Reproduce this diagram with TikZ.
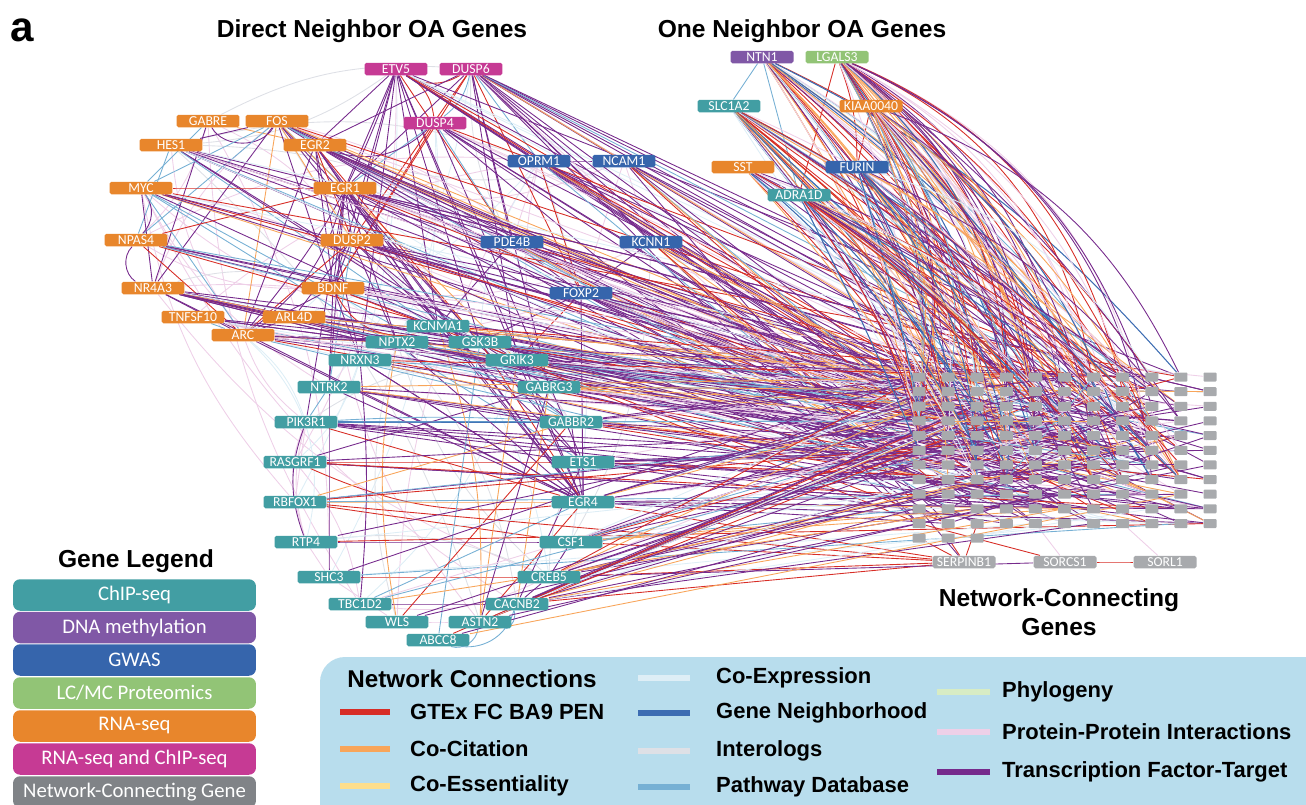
\documentclass[tikz,border=0pt]{standalone}
\usepackage{fontspec}
\setmainfont{Liberation Sans}
\newfontfamily\genefont{Carlito}
\pgfdeclarelayer{bg}
\pgfsetlayers{bg,main}

\definecolor{chipcol}{RGB}{66,158,163}
\definecolor{rnacol}{RGB}{232,134,44}
\definecolor{rnachipcol}{RGB}{198,58,148}
\definecolor{gwascol}{RGB}{54,101,172}
\definecolor{methcol}{RGB}{128,88,166}
\definecolor{protcol}{RGB}{146,196,118}
\definecolor{gridcol}{RGB}{168,170,173}
\definecolor{conncol}{RGB}{128,131,135}
\definecolor{tfcol}{RGB}{118,42,140}
\definecolor{gtexcol}{RGB}{215,45,38}
\definecolor{cocitcol}{RGB}{248,165,90}
\definecolor{coesscol}{RGB}{253,222,140}
\definecolor{coexpcol}{RGB}{222,238,246}
\definecolor{neighcol}{RGB}{60,108,178}
\definecolor{intercol}{RGB}{222,224,230}
\definecolor{pathcol}{RGB}{118,176,212}
\definecolor{phylocol}{RGB}{215,236,196}
\definecolor{ppicol}{RGB}{238,208,232}
\definecolor{panelcol}{RGB}{184,221,237}

\tikzset{
  gene/.style={rectangle, rounded corners=1pt, minimum width=1.26cm, minimum height=0.25cm,
    inner sep=0pt, text=white, font=\genefont\fontsize{7.8}{8}\selectfont},
  chip/.style={gene, fill=chipcol},
  rnaseq/.style={gene, fill=rnacol},
  rnachip/.style={gene, fill=rnachipcol},
  gwas/.style={gene, fill=gwascol},
  meth/.style={gene, fill=methcol},
  prot/.style={gene, fill=protcol},
  conn/.style={gene, fill=gridcol},
  gridbox/.style={rectangle, rounded corners=0.5pt, fill=gridcol, minimum width=0.26cm,
    minimum height=0.18cm, inner sep=0pt},
  tf/.style={draw=tfcol, line width=0.5pt},
  gtex/.style={draw=gtexcol, line width=0.5pt},
  cocit/.style={draw=cocitcol, line width=0.5pt},
  coess/.style={draw=coesscol, line width=0.5pt},
  coexp/.style={draw=coexpcol, line width=0.5pt},
  neigh/.style={draw=neighcol, line width=0.6pt},
  interolog/.style={draw=intercol, line width=0.5pt},
  pathdb/.style={draw=pathcol, line width=0.5pt},
  phylo/.style={draw=phylocol, line width=0.5pt},
  ppi/.style={draw=ppicol, line width=0.5pt},
  w1/.style={tf}, w2/.style={tf}, w3/.style={tf}, w4/.style={tf}, w5/.style={tf},
  w6/.style={gtex}, w7/.style={cocit}, w8/.style={pathdb}, w9/.style={ppi}, w10/.style={coexp},
  w11/.style={interolog}, w12/.style={ppi},
  v1/.style={tf}, v2/.style={tf}, v3/.style={tf}, v4/.style={gtex}, v5/.style={gtex},
  v6/.style={cocit}, v7/.style={cocit}, v8/.style={pathdb}, v9/.style={neigh}, v10/.style={ppi},
  v11/.style={coexp}, v12/.style={ppi},
  heading/.style={font=\bfseries\fontsize{14}{16.5}\selectfont},
  legbox/.style={rectangle, rounded corners=4pt, minimum width=4.86cm, minimum height=0.63cm,
    inner sep=0pt, text=white, font=\genefont\fontsize{11.8}{13}\selectfont},
  legline/.style={line width=3pt},
  legtext/.style={anchor=west, font=\bfseries\fontsize{12.5}{14}\selectfont},
}

\begin{document}
\begin{tikzpicture}
  [x=0.02cm, y=-0.02cm]
  \useasboundingbox (0,0) rectangle (1306,805);
  \pgfmathsetseed{42}

  % headings
  \node[font=\bfseries\fontsize{24}{26}\selectfont] (tag) at (22,30) {a};
  \node[heading] (direct) at (372,31) {Direct Neighbor OA Genes};
  \node[heading] (oneneigh) at (802,31) {One Neighbor OA Genes};
  \node[heading, align=center] (connecting) at (1059,612) {Network-Connecting\\Genes};

  % direct neighbor genes
  \node[rnachip] (etv5) at (396,69) {ETV5};
  \node[rnachip] (dusp6) at (471,69) {DUSP6};
  \node[rnachip] (dusp4) at (435,123) {DUSP4};
  \node[rnaseq] (gabre) at (208,121) {GABRE};
  \node[rnaseq] (fos) at (277,121) {FOS};
  \node[rnaseq] (hes1) at (171,145) {HES1};
  \node[rnaseq] (egr2) at (315,145) {EGR2};
  \node[rnaseq] (myc) at (141,188) {MYC};
  \node[rnaseq] (egr1) at (345,188) {EGR1};
  \node[rnaseq] (npas4) at (136,240) {NPAS4};
  \node[rnaseq] (dusp2) at (352,240) {DUSP2};
  \node[rnaseq] (nr4a3) at (153,288) {NR4A3};
  \node[rnaseq] (bdnf) at (333,288) {BDNF};
  \node[rnaseq] (tnfsf10) at (193,317) {TNFSF10};
  \node[rnaseq] (arl4d) at (294,317) {ARL4D};
  \node[rnaseq] (arc) at (243,335) {ARC};
  \node[gwas] (oprm1) at (539,161) {OPRM1};
  \node[gwas] (ncam1) at (624,161) {NCAM1};
  \node[gwas] (pde4b) at (512,242) {PDE4B};
  \node[gwas] (kcnn1) at (651,242) {KCNN1};
  \node[gwas] (foxp2) at (581,293) {FOXP2};
  \node[chip] (kcnma1) at (438,326) {KCNMA1};
  \node[chip] (nptx2) at (397,342) {NPTX2};
  \node[chip] (gsk3b) at (480,342) {GSK3B};
  \node[chip] (nrxn3) at (360,360) {NRXN3};
  \node[chip] (grik3) at (517,360) {GRIK3};
  \node[chip] (ntrk2) at (329,387) {NTRK2};
  \node[chip] (gabrg3) at (549,387) {GABRG3};
  \node[chip] (pik3r1) at (306,422) {PIK3R1};
  \node[chip] (gabbr2) at (571,422) {GABBR2};
  \node[chip] (rasgrf1) at (295,462) {RASGRF1};
  \node[chip] (ets1) at (583,462) {ETS1};
  \node[chip] (rbfox1) at (295,502) {RBFOX1};
  \node[chip] (egr4) at (583,502) {EGR4};
  \node[chip] (rtp4) at (306,542) {RTP4};
  \node[chip] (csf1) at (571,542) {CSF1};
  \node[chip] (shc3) at (329,577) {SHC3};
  \node[chip] (creb5) at (549,577) {CREB5};
  \node[chip] (tbc1d2) at (360,604) {TBC1D2};
  \node[chip] (cacnb2) at (517,604) {CACNB2};
  \node[chip] (wls) at (397,622) {WLS};
  \node[chip] (astn2) at (480,622) {ASTN2};
  \node[chip] (abcc8) at (438,640) {ABCC8};

  % one neighbor genes
  \node[meth] (ntn1) at (762,57) {NTN1};
  \node[prot] (lgals3) at (837,57) {LGALS3};
  \node[chip] (slc1a2) at (729,106) {SLC1A2};
  \node[rnaseq] (kiaa0040) at (871,106) {KIAA0040};
  \node[rnaseq] (sst) at (743,167) {SST};
  \node[gwas] (furin) at (857,167) {FURIN};
  \node[chip] (adra1d) at (799,195) {ADRA1D};

  % network-connecting genes
  \foreach \col in {1,...,11}{
    \pgfmathtruncatemacro\nrow{\col<4 ? 12 : 11}
    \foreach \rw in {1,...,\nrow}
      \node[gridbox] (n-\col-\rw) at ({919+29.1*(\col-1)},{377+14.65*(\rw-1)}) {};
  }
  \node[conn] (serpinb1) at (964,562) {SERPINB1};
  \node[conn] (sorcs1) at (1065,562) {SORCS1};
  \node[conn] (sorl1) at (1165,562) {SORL1};

  \begin{pgfonlayer}{bg}
    % faint links first
    \foreach \k in {1,...,70}{
      \pgfmathrandominteger{\ga}{1}{42}
      \pgfmathrandominteger{\gb}{1}{42}
      \pgfmathrandominteger{\gk}{9}{12}
      \pgfmathparse{{"etv5","dusp6","dusp4","gabre","fos","hes1","egr2","myc","egr1","npas4",
        "dusp2","nr4a3","bdnf","tnfsf10","arl4d","arc","oprm1","ncam1","pde4b","kcnn1","foxp2",
        "kcnma1","nptx2","gsk3b","nrxn3","grik3","ntrk2","gabrg3","pik3r1","gabbr2","rasgrf1",
        "ets1","rbfox1","egr4","rtp4","csf1","shc3","creb5","tbc1d2","cacnb2","wls","astn2"}[\ga-1]}
      \let\na\pgfmathresult
      \pgfmathparse{{"etv5","dusp6","dusp4","gabre","fos","hes1","egr2","myc","egr1","npas4",
        "dusp2","nr4a3","bdnf","tnfsf10","arl4d","arc","oprm1","ncam1","pde4b","kcnn1","foxp2",
        "kcnma1","nptx2","gsk3b","nrxn3","grik3","ntrk2","gabrg3","pik3r1","gabbr2","rasgrf1",
        "ets1","rbfox1","egr4","rtp4","csf1","shc3","creb5","tbc1d2","cacnb2","wls","astn2"}[\gb-1]}
      \let\nb\pgfmathresult
      \ifnum\ga=\gb\else\draw[w\gk] (\na) to[bend left=15] (\nb);\fi
    }

    % links inside the clusters
    \foreach \a/\b/\s/\bnd in {
      etv5/dusp6/gtex/-30, etv5/dusp4/gtex/25, etv5/egr1/tf/0, etv5/egr2/tf/0, etv5/dusp2/tf/0,
      etv5/bdnf/tf/0, etv5/arc/tf/10, etv5/nrxn3/tf/0, etv5/kcnma1/tf/0, etv5/oprm1/tf/0,
      etv5/gsk3b/tf/0, etv5/grik3/tf/0, etv5/pde4b/gtex/0, etv5/egr4/tf/0,
      dusp6/dusp4/pathdb/20, dusp6/egr1/tf/0, dusp6/egr2/tf/0, dusp6/dusp2/gtex/0, dusp6/foxp2/gtex/0,
      dusp6/ncam1/tf/0, dusp6/oprm1/pathdb/0, dusp6/kcnn1/tf/0, dusp6/pde4b/tf/0, dusp6/grik3/tf/0,
      dusp6/gabrg3/tf/0, dusp6/bdnf/gtex/0,
      dusp4/egr1/pathdb/0, dusp4/bdnf/gtex/0, dusp4/egr2/tf/30, dusp4/pde4b/pathdb/0, dusp4/ets1/tf/0,
      gabre/fos/tf/-60, gabre/nr4a3/tf/0, gabre/myc/pathdb/0, gabre/egr2/cocit/0,
      fos/egr2/tf/0, fos/egr1/pathdb/0, fos/myc/pathdb/0, fos/hes1/tf/0, fos/nr4a3/tf/0,
      fos/arc/cocit/0, fos/dusp2/cocit/0, fos/npas4/pathdb/0, fos/bdnf/tf/0, fos/gsk3b/tf/0,
      fos/grik3/cocit/0, fos/egr4/tf/0,
      hes1/egr1/tf/0, hes1/grik3/tf/0, hes1/gabrg3/tf/0, hes1/npas4/pathdb/0, hes1/gabbr2/pathdb/0,
      egr2/egr1/tf/0, egr2/arc/tf/0, egr2/bdnf/tf/0, egr2/dusp2/gtex/0, egr2/nrxn3/tf/0,
      egr2/gsk3b/gtex/0, egr2/kcnma1/tf/0, egr2/egr4/tf/0,
      myc/npas4/tf/40, myc/nr4a3/tf/0, myc/egr1/gtex/0, myc/arc/pathdb/0, myc/gabbr2/pathdb/0,
      myc/ets1/pathdb/0, myc/grik3/tf/0,
      egr1/dusp2/tf/0, egr1/bdnf/tf/0, egr1/arc/tf/20, egr1/nptx2/tf/0, egr1/kcnma1/tf/0,
      egr1/npas4/gtex/0, egr1/ntrk2/tf/0, egr1/pik3r1/tf/0, egr1/gsk3b/cocit/0, egr1/egr4/tf/0,
      egr1/ets1/tf/0,
      npas4/nr4a3/tf/-50, npas4/arc/gtex/0, npas4/bdnf/tf/0, npas4/kcnma1/gtex/0,
      dusp2/arc/gtex/0, dusp2/bdnf/tf/0, dusp2/arl4d/tf/0, dusp2/nptx2/tf/0, dusp2/ets1/tf/0,
      dusp2/gabbr2/tf/0, dusp2/ntrk2/pathdb/0,
      nr4a3/arc/tf/0, nr4a3/gsk3b/tf/0, nr4a3/grik3/tf/0, nr4a3/egr4/tf/0, nr4a3/gabrg3/tf/0,
      bdnf/arc/tf/0, bdnf/ntrk2/tf/0, bdnf/kcnma1/gtex/-40, bdnf/nrxn3/tf/0, bdnf/gsk3b/tf/0,
      tnfsf10/arc/pathdb/0, tnfsf10/grik3/tf/0, tnfsf10/gabrg3/pathdb/0,
      arl4d/arc/tf/0, arl4d/nptx2/tf/0, arc/nptx2/tf/0, arc/gsk3b/tf/0, arc/egr4/tf/0,
      arc/rtp4/coexp/30,
      oprm1/ncam1/tf/0, oprm1/pde4b/ppi/0, oprm1/foxp2/gtex/0, ncam1/kcnn1/ppi/0, ncam1/foxp2/ppi/0,
      pde4b/foxp2/tf/0, kcnn1/foxp2/tf/0, foxp2/egr4/tf/0, foxp2/gsk3b/tf/0, foxp2/grik3/gtex/0,
      pde4b/kcnma1/tf/0,
      pik3r1/gabbr2/neigh/0, pik3r1/gabbr2/pathdb/3, rasgrf1/ets1/gtex/0, rasgrf1/egr4/gtex/-15,
      rbfox1/egr4/cocit/0, rbfox1/csf1/gtex/0, rtp4/csf1/tf/0, shc3/creb5/gtex/0,
      tbc1d2/cacnb2/tf/0, wls/astn2/ppi/0, nrxn3/tbc1d2/tf/5, ntrk2/shc3/tf/0, ntrk2/pik3r1/pathdb/0,
      pik3r1/rbfox1/ppi/0, rbfox1/rtp4/ppi/0, rtp4/shc3/ppi/0, shc3/wls/ppi/0, pik3r1/rtp4/tf/-20,
      egr4/ets1/tf/0, egr4/gabbr2/tf/0, egr4/grik3/tf/0, egr4/nptx2/tf/0, egr4/ntrk2/tf/0,
      egr4/gsk3b/gtex/0, egr4/kcnma1/tf/0, egr4/nrxn3/tf/0, egr4/pik3r1/gtex/0,
      cacnb2/astn2/pathdb/40, astn2/abcc8/pathdb/50, abcc8/cacnb2/pathdb/-40,
      csf1/creb5/tf/0, creb5/cacnb2/tf/0, gabrg3/cacnb2/cocit/0, grik3/astn2/cocit/0,
      kcnma1/astn2/cocit/10, nptx2/wls/cocit/-10, gsk3b/abcc8/pathdb/0, gabrg3/astn2/tf/0,
      ets1/cacnb2/tf/0, rasgrf1/gabrg3/tf/0, rbfox1/gabbr2/cocit/0, ntrk2/gabbr2/tf/0,
      nrxn3/egr4/tf/0, tbc1d2/egr4/pathdb/0, wls/gabbr2/gtex/0, astn2/egr4/gtex/0,
      ntn1/slc1a2/pathdb/0, lgals3/furin/gtex/10, lgals3/adra1d/gtex/0, slc1a2/adra1d/neigh/0,
      sst/adra1d/tf/0, kiaa0040/furin/gtex/0, ntn1/adra1d/pathdb/0,
      serpinb1/creb5/gtex/0, serpinb1/cacnb2/gtex/0, serpinb1/egr4/gtex/0, serpinb1/csf1/gtex/0,
      serpinb1/n-1-12/gtex/0, serpinb1/n-2-12/gtex/0, serpinb1/n-3-11/gtex/0,
      serpinb1/rbfox1/gtex/0, serpinb1/n-1-10/tf/0, sorcs1/sorl1/gtex/0, sorcs1/n-1-11/gtex/0,
      sorcs1/n-5-11/ppi/0, sorl1/n-8-11/ppi/0, sorcs1/creb5/tf/0}
      \draw[\s] (\a) to[bend left=\bnd] (\b);

    % fans into the network-connecting genes
    \foreach \src/\num in {etv5/10, dusp6/14, dusp4/8, fos/8, hes1/8, egr2/10, myc/6, egr1/12,
      npas4/4, dusp2/8, nr4a3/10, bdnf/6, tnfsf10/5, arl4d/5, arc/8, oprm1/8, ncam1/8, pde4b/8,
      kcnn1/8, foxp2/12, kcnma1/8, nptx2/5, gsk3b/8, nrxn3/5, grik3/10, ntrk2/6, gabrg3/8,
      pik3r1/6, gabbr2/8, rasgrf1/4, ets1/12, rbfox1/4, egr4/16, rtp4/3, csf1/10, shc3/3,
      creb5/12, tbc1d2/3, cacnb2/12, wls/2, astn2/4, abcc8/3}{
      \foreach \k in {1,...,\num}{
        \pgfmathrandominteger{\gc}{1}{11}
        \pgfmathrandominteger{\gr}{1}{11}
        \pgfmathrandominteger{\gk}{1}{10}
        \draw[w\gk] (\src) -- (n-\gc-\gr);
      }
    }
    \foreach \src/\num/\lo/\hi in {ntn1/30/0/15, lgals3/40/5/30, slc1a2/30/0/12, kiaa0040/25/5/25,
      sst/15/0/12, furin/20/0/20, adra1d/20/0/15}{
      \foreach \k in {1,...,\num}{
        \pgfmathrandominteger{\gc}{1}{10}
        \pgfmathrandominteger{\gr}{1}{8}
        \pgfmathrandominteger{\gk}{1}{12}
        \pgfmathrandominteger{\gb}{\lo}{\hi}
        \draw[v\gk] (\src) to[bend left=\gb] (n-\gc-\gr);
      }
    }
    \foreach \k in {1,...,30}{
      \pgfmathrandominteger{\gc}{1}{5}
      \pgfmathrandominteger{\gr}{1}{11}
      \pgfmathrandominteger{\gd}{6}{11}
      \pgfmathrandominteger{\gs}{1}{11}
      \pgfmathrandominteger{\gk}{1}{10}
      \draw[w\gk] (n-\gc-\gr) -- (n-\gd-\gs);
    }
  \end{pgfonlayer}

  % gene legend
  \node[heading] (genelegend) at (136,561) {Gene Legend};
  \node[legbox, fill=chipcol] (lchip) at (134.5,595) {ChIP-seq};
  \node[legbox, fill=methcol] (lmeth) at (134.5,627.5) {DNA methylation};
  \node[legbox, fill=gwascol] (lgwas) at (134.5,660) {GWAS};
  \node[legbox, fill=protcol] (lprot) at (134.5,693) {LC/MC Proteomics};
  \node[legbox, fill=rnacol] (lrna) at (134.5,726) {RNA-seq};
  \node[legbox, fill=rnachipcol] (lrnachip) at (134.5,759) {RNA-seq and ChIP-seq};
  \node[legbox, fill=conncol] (lconn) at (134.5,792) {Network-Connecting Gene};

  % network connections legend
  \fill[panelcol, rounded corners=0.5cm] (320,657) rectangle (1360,860);
  \node[heading, font=\bfseries\fontsize{13.8}{16}\selectfont] (netconn) at (472,679) {Network Connections};
  \draw[gtex, legline] (340,712) -- (390,712);
  \node[legtext] (lgtex) at (404,712) {GTEx FC BA9 PEN};
  \draw[cocit, legline] (340,749) -- (390,749);
  \node[legtext] (lcocit) at (404,749) {Co-Citation};
  \draw[coess, legline] (340,786) -- (390,786);
  \node[legtext] (lcoess) at (404,786) {Co-Essentiality};
  \draw[coexp, legline] (638,678) -- (690,678);
  \node[legtext] (lcoexp) at (710,678) {Co-Expression};
  \draw[neigh, legline] (638,713) -- (690,713);
  \node[legtext] (lneigh) at (710,713) {Gene Neighborhood};
  \draw[interolog, legline] (638,751) -- (690,751);
  \node[legtext] (linter) at (710,751) {Interologs};
  \draw[pathdb, legline] (638,787) -- (690,787);
  \node[legtext] (lpath) at (710,787) {Pathway Database};
  \draw[phylo, legline] (937,692) -- (990,692);
  \node[legtext] (lphylo) at (996,692) {Phylogeny};
  \draw[ppi, legline] (937,732) -- (990,732);
  \node[legtext] (lppi) at (996,732) {Protein-Protein Interactions};
  \draw[tf, legline] (937,772) -- (990,772);
  \node[legtext] (ltf) at (996,772) {Transcription Factor-Target};
\end{tikzpicture}
\end{document}
